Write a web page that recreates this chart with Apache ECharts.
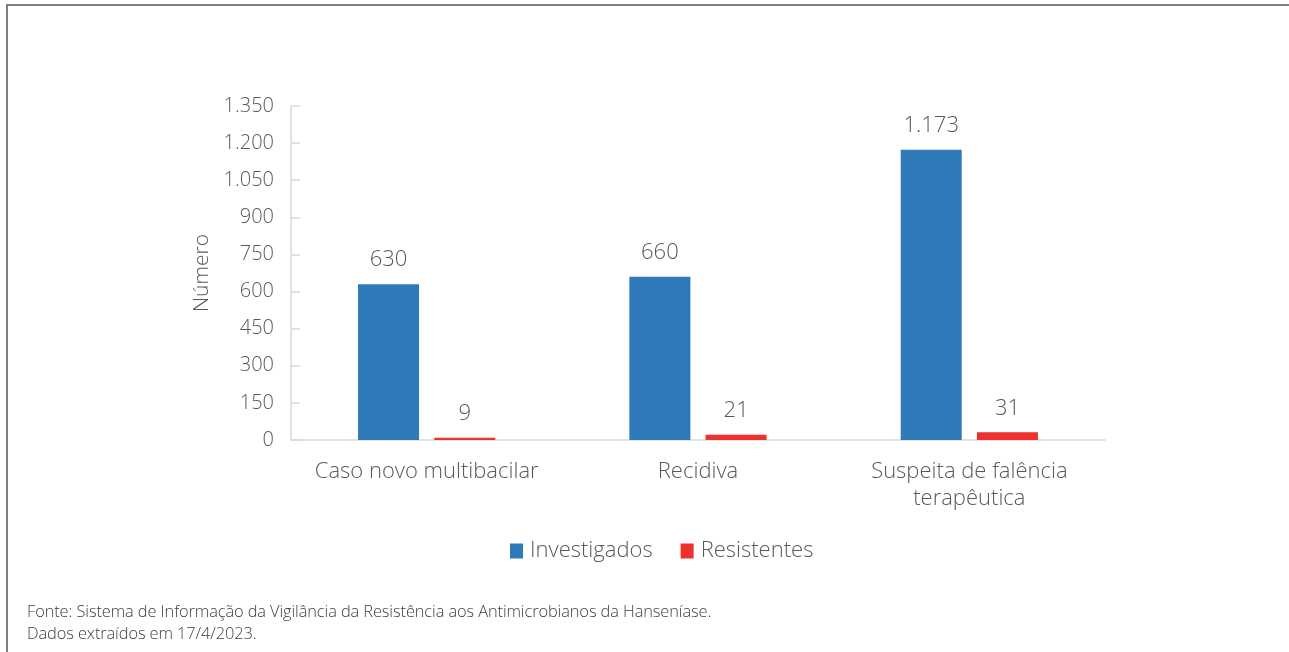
<!DOCTYPE html>
<html>
<head>
<meta charset="utf-8">
<script src="https://cdn.jsdelivr.net/npm/echarts@6/dist/echarts.min.js"></script>
<style>
  html, body { margin: 0; padding: 0; background: #fff; }
  #frame { position: absolute; left: 6px; top: 4px; width: 1283px; height: 648px; border-top: 2px solid #7f7f7f; border-left: 2px solid #7f7f7f; box-sizing: border-box; }
  #chart { position: absolute; left: 0; top: 0; width: 1289px; height: 652px; }
  #note { position: absolute; left: 27px; top: 600px; font-family: 'Open Sans', sans-serif; font-weight: 300; font-size: 16.4px; color: #404040; line-height: 22px; letter-spacing: -0.1px; }
</style>
</head>
<body>
<div id="frame"></div>
<div id="chart"></div>
<div id="note">Fonte: Sistema de Informação da Vigilância da Resistência aos Antimicrobianos da Hanseníase.<br>Dados extraídos em 17/4/2023.</div>
<script>
const categories = ['Caso novo multibacilar', 'Recidiva', 'Suspeita de falência\nterapêutica'];
const investigados = [630, 660, 1173];
const resistentes = [9, 21, 31];
const seriesNames = ['Investigados', 'Resistentes'];

function fmt(v) {
  return String(v).replace(/\B(?=(\d{3})+(?!\d))/g, '.');
}

const chart = echarts.init(document.getElementById('chart'));
const txt = '#595959';
const font = "'Open Sans', sans-serif";
const fw = 300;
chart.setOption({
  animation: false,
  textStyle: { fontFamily: font },
  grid: { left: 291, right: 184, top: 106, bottom: 212, containLabel: false },
  legend: {
    data: seriesNames,
    bottom: 85,
    left: 505,
    itemWidth: 13,
    itemHeight: 15,
    itemGap: 28,
    icon: 'rect',
    textStyle: { fontSize: 22, color: txt, fontFamily: font, fontWeight: fw, padding: [0, 0, 0, 2] }
  },
  xAxis: {
    type: 'category',
    data: categories,
    axisLine: { lineStyle: { color: '#d9d9d9', width: 1.5 } },
    axisTick: { show: false },
    axisLabel: { fontSize: 22, color: txt, fontFamily: font, fontWeight: fw, margin: 18, lineHeight: 27, interval: 0 }
  },
  yAxis: {
    type: 'value',
    min: 0,
    max: 1350,
    interval: 150,
    name: 'Número',
    nameLocation: 'middle',
    nameGap: 78,
    nameTextStyle: { fontSize: 21, color: txt, fontFamily: font, fontWeight: fw },
    splitLine: { show: false },
    axisLine: { show: true, lineStyle: { color: '#d9d9d9', width: 1.5 } },
    axisTick: { show: true, inside: true, length: 9, lineStyle: { color: '#d9d9d9', width: 1.5 } },
    axisLabel: { fontSize: 20, color: txt, fontFamily: font, fontWeight: fw, margin: 17, padding: [0, 0, 8, 0], formatter: fmt }
  },
  series: [
    {
      name: seriesNames[0],
      type: 'bar',
      data: investigados,
      barWidth: 61,
      barGap: '25%',
      itemStyle: { color: '#2e7ab8' },
      label: { show: true, position: 'top', distance: 13, fontSize: 22, color: txt, fontFamily: font, fontWeight: fw, formatter: p => fmt(p.value) }
    },
    {
      name: seriesNames[1],
      type: 'bar',
      data: resistentes,
      barWidth: 61,
      barGap: '25%',
      itemStyle: { color: '#ee312e' },
      label: { show: true, position: 'top', distance: 13, fontSize: 22, color: txt, fontFamily: font, fontWeight: fw, formatter: p => fmt(p.value) }
    }
  ]
});
</script>
</body>
</html>
